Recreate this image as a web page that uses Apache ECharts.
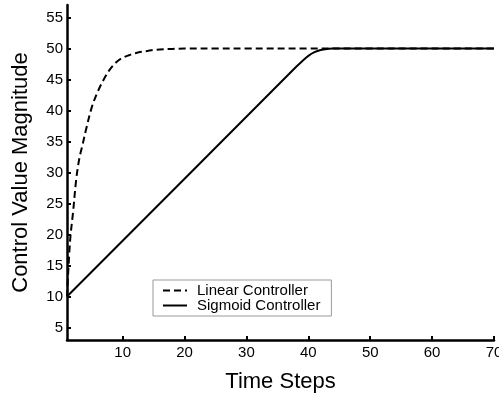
<!DOCTYPE html>
<html><head><meta charset="utf-8">
<script src="https://cdn.jsdelivr.net/npm/echarts@6/dist/echarts.min.js"></script>
<style>html,body{margin:0;padding:0;background:#fff}#c{width:499px;height:393px}</style>
</head><body><div id="c"></div>
<script>
const linearT = [1,1.5,2,2.5,3,3.5,4,5,6,7,8,9,10,11,12,13,14,15,16,18,20,25,30,40,50,60,70];
const linearV = [10,19,23.8,29,32.3,34.4,36.6,40.5,43.1,45.1,46.7,47.8,48.5,48.9,49.2,49.45,49.6,49.75,49.82,49.92,49.97,50,50,50,50,50,50];
const sigmoidT = [1,38,39,40,41,42,43,44,45,70];
const sigmoidV = [10,47,47.95,48.8,49.4,49.75,49.92,49.98,50,50];
const yTicks = [5,10,15,20,25,30,35,40,45,50,55];
const xTicks = [10,20,30,40,50,60,70];
const seriesNames = ['Linear Controller','Sigmoid Controller'];

const font = 'Liberation Sans, Arial, sans-serif';
const chart = echarts.init(document.getElementById('c'), null, {renderer:'canvas'});
chart.setOption({
  animation:false,
  grid:{left:67,right:5,top:5,bottom:53,containLabel:false,outerBoundsMode:'none'},
  legend:{
    orient:'vertical', left:153, top:280,
    data:seriesNames,
    backgroundColor:'#fff', borderColor:'#999', borderWidth:1, borderRadius:0,
    padding:[3,11,3,9], itemGap:0, itemWidth:24, itemHeight:14,
    itemStyle:{opacity:0},
    textStyle:{fontFamily:font,fontSize:15,color:'#000',lineHeight:15,padding:[0,0,0,5]}
  },
  xAxis:{type:'value',min:1,max:70,
    name:'Time Steps',nameLocation:'middle',nameGap:31,
    nameTextStyle:{fontFamily:font,fontSize:22,color:'#000'},
    axisLine:{lineStyle:{color:'#000',width:2.5}},
    axisTick:{inside:true,length:4,lineStyle:{color:'#000',width:2},customValues:xTicks},
    axisLabel:{fontFamily:font,fontSize:15,color:'#000',margin:5,customValues:xTicks},
    splitLine:{show:false}},
  yAxis:{type:'value',min:3,max:57,
    name:'Control Value Magnitude',nameLocation:'middle',nameGap:35,
    nameTextStyle:{fontFamily:font,fontSize:22,color:'#000'},
    axisLine:{show:true,lineStyle:{color:'#000',width:2.5}},
    axisTick:{show:true,inside:true,length:4,lineStyle:{color:'#000',width:2},customValues:yTicks},
    axisLabel:{fontFamily:font,fontSize:15,color:'#000',margin:4,customValues:yTicks},
    splitLine:{show:false}},
  series:[
    {name:seriesNames[0],type:'line',showSymbol:false,symbol:'none',smooth:0.35,
     data:linearT.map((t,i)=>[t,linearV[i]]),
     lineStyle:{color:'#000',width:2,type:[7,4]},itemStyle:{color:'#000'}},
    {name:seriesNames[1],type:'line',showSymbol:false,symbol:'none',smooth:0.3,
     data:sigmoidT.map((t,i)=>[t,sigmoidV[i]]),
     lineStyle:{color:'#000',width:2},itemStyle:{color:'#000'}}
  ]
});
</script></body></html>
